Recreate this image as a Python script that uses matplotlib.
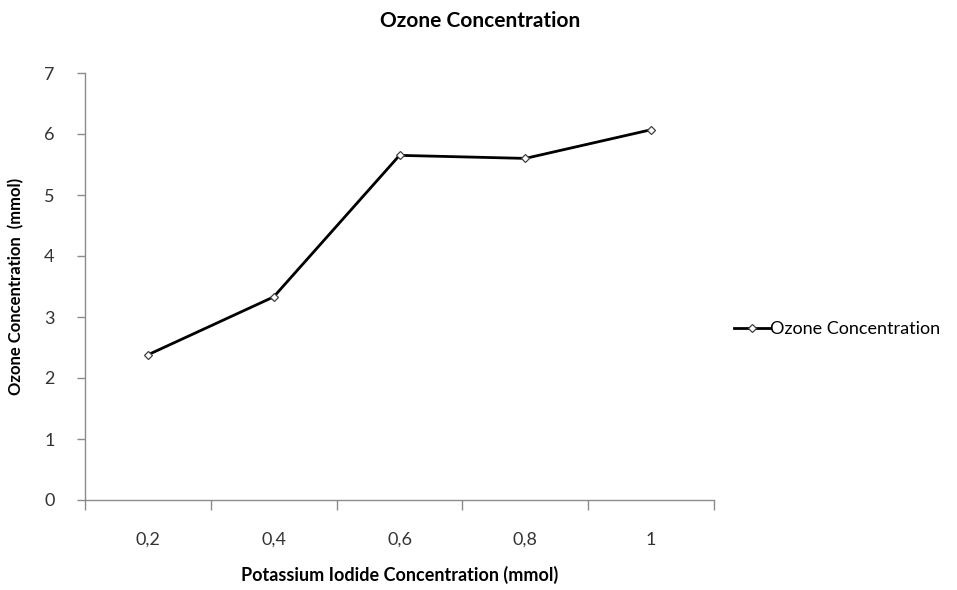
import numpy as np
import matplotlib
matplotlib.use("Agg")
import matplotlib.pyplot as plt
from matplotlib.ticker import FixedLocator

plt.rcParams['font.family'] = ['Lato', 'DejaVu Sans']

# data
ki_conc = ["0,2", "0,4", "0,6", "0,8", "1"]
ozone = [2.38, 3.33, 5.65, 5.60, 6.07]

fig = plt.figure(figsize=(9.57, 5.90), dpi=100)
ax = fig.add_axes([85/957, 1 - 500/590, (714 - 85)/957, (500 - 73)/590])

x = np.arange(len(ki_conc))
ax.plot(x, ozone, color='black', lw=2, marker='D', ms=4.5,
        mfc='white', mec='#404040', mew=0.9, label='Ozone Concentration')

ax.set_xlim(-0.5, len(ki_conc) - 0.5)
ax.set_ylim(0, 7)
ax.set_xticks(x)
ax.set_xticklabels(ki_conc)
ax.xaxis.set_minor_locator(FixedLocator(np.arange(-0.5, len(ki_conc), 1.0)))
ax.tick_params(axis='x', which='major', length=0, pad=23, labelsize=13, labelcolor='#333333')
ax.tick_params(axis='x', which='minor', length=7, width=1, color='#8c8c8c', direction='out')
ax.set_yticks(range(0, 8))
ax.tick_params(axis='y', length=6, width=1, color='#8c8c8c', pad=16, labelsize=13, labelcolor='#333333')

for s in ['top', 'right']:
    ax.spines[s].set_visible(False)
for s in ['left', 'bottom']:
    ax.spines[s].set_color('#8c8c8c')
    ax.spines[s].set_linewidth(1)

ax.set_xlabel('Potassium Iodide Concentration (mmol)', fontsize=13, fontweight='bold', labelpad=13)
ax.set_ylabel('Ozone Concentration  (mmol)', fontsize=12, fontweight='bold', labelpad=14)
fig.text(0.502, 0.982, 'Ozone Concentration', ha='center', va='top', fontsize=15, fontweight='bold')

ax.legend(loc='center left', bbox_to_anchor=(1.02, 0.40), frameon=False,
          fontsize=13, handlelength=2.0, handletextpad=0.0, borderaxespad=0)

fig.savefig('out.png', dpi=100)
